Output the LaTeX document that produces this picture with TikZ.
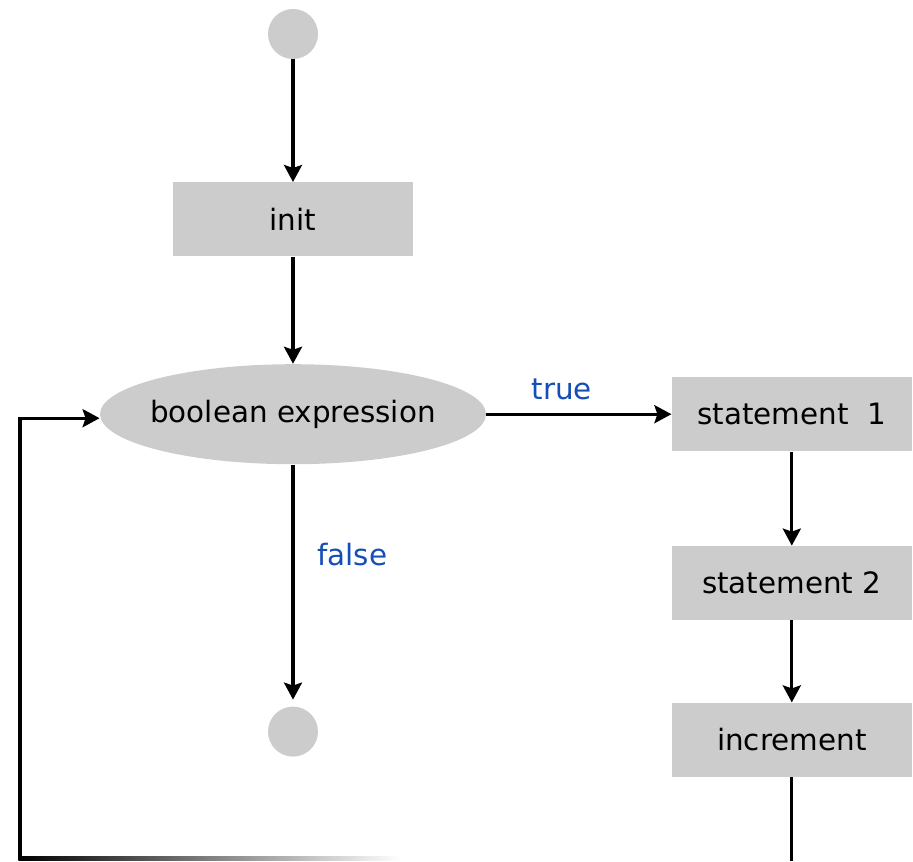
\documentclass[tikz,border=0pt]{standalone}
\usepackage{fontspec}
\setmainfont{DejaVu Sans}
\usetikzlibrary{positioning,calc,arrows.meta,shapes.geometric}
\definecolor{boxgray}{RGB}{204,204,204}
\definecolor{labelblue}{RGB}{20,78,182}

\begin{document}
\begin{tikzpicture}[
    x=0.5pt, y=-0.5pt,
    font=\fontsize{14.7}{17}\selectfont,
    stmt/.style={rectangle, fill=boxgray, minimum width=120pt, minimum height=37pt, inner sep=0pt},
    cond/.style={ellipse, fill=boxgray, minimum width=193pt, minimum height=50pt, inner xsep=-4pt, inner ysep=0pt},
    term/.style={circle, fill=boxgray, minimum size=25pt, inner sep=0pt, outer sep=0pt},
    flow/.style={line width=1.6pt, -{Stealth[length=8.5pt, width=9pt, inset=1.5pt]}},
    link/.style={line width=1.6pt},
    lbl/.style={text=labelblue},
    ]
    \useasboundingbox (0,0) rectangle (913,861);

    \node[term] (start) at (293,34) {};
    \node[stmt, below=61.5pt of start] (init) {init};
    \node[cond, below=53.5pt of init] (test) {boolean expression};
    \node[term, below=121pt of test] (stop) {};

    % loop body
    \node[stmt, right=92.5pt of test] (st1) {statement\ \ 1};
    \node[stmt, below=47pt of st1] (st2) {statement 2};
    \node[stmt, below=41pt of st2] (incr) {increment};

    % forward arrows
    \draw[flow] (start) to (init.north);
    \draw[flow] (init.south) to (test.north);
    \draw[flow] (test.east) to node[lbl, above=3pt, xshift=-8.5pt] {true} (st1.west);
    \draw[flow, shorten >=3.5pt] (test.south) to node[lbl, right=8pt, pos=0.37] {false} (stop.north);
    \draw[flow] (st1.south) to (st2.north);
    \draw[flow] (st2.south) to (incr.north);

    % back edge
    \coordinate (down) at (incr.south |- 0,861);
    \coordinate (left) at (20,858.5);
    \draw[link] (incr.south) to (down);
    \shade[left color=black, right color=white] ($(left)+(-1.6,-1.6)$) rectangle (400,860.5);
    \draw[flow] ($(left)+(0,1.6)$) |- ([yshift=-2pt]test.west);
\end{tikzpicture}
\end{document}
